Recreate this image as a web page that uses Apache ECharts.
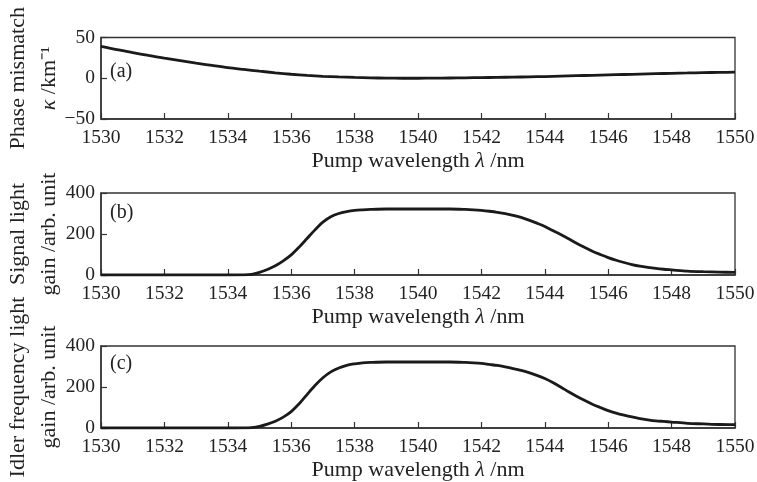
<!DOCTYPE html>
<html>
<head>
<meta charset="utf-8">
<script src="https://cdn.jsdelivr.net/npm/echarts@6/dist/echarts.min.js"></script>
<style>
html,body{margin:0;padding:0;background:#fff;}
#c{width:757px;height:482px;}
</style>
</head>
<body>
<div id="c"></div>
<script>
// (a) pump wavelength (nm) and phase mismatch kappa (km^-1)
var wavelengthA = [1530,1530.5,1531,1531.5,1532,1532.5,1533,1533.5,1534,1534.5,1535,1535.5,1536,1536.5,1537,1537.5,1538,1538.5,1539,1539.5,1540,1540.5,1541,1541.5,1542,1542.5,1543,1543.5,1544,1544.5,1545,1545.5,1546,1546.5,1547,1547.5,1548,1548.5,1549,1549.5,1550];
var kappa = [39,35,31.5,28,24.6,21.5,18.5,15.7,13,10.8,8.7,6.7,4.9,3.5,2.4,1.6,1.0,0.5,0.2,0,0,0.1,0.3,0.5,0.8,1.1,1.4,1.7,2.1,2.6,3.1,3.6,4.1,4.6,5.1,5.6,6.1,6.5,6.9,7.2,7.5];
// (b),(c) pump wavelength (nm) for the gain curves
var wavelengthG = [1530,1531,1532,1533,1534,1534.5,1534.75,1535,1535.25,1535.5,1535.75,1536,1536.25,1536.5,1536.75,1537,1537.25,1537.5,1537.75,1538,1538.25,1538.5,1539,1539.5,1540,1540.5,1541,1541.5,1541.75,1542,1542.25,1542.5,1542.75,1543,1543.25,1543.5,1543.75,1544,1544.25,1544.5,1544.75,1545,1545.25,1545.5,1545.75,1546,1546.25,1546.5,1546.75,1547,1547.25,1547.5,1547.75,1548,1548.5,1549,1549.5,1550];
// (b) signal light gain (arb. unit)
var signalGain = [0,0,0,0,0,0.5,3,13,27,45,69,98,136,178,220,258,284,300,309,315,318,320,322,322,322,322,322,320,318,315,311,306,299,291,281,268,253,237,217,198,177,155,135,116,100,85,72,61,51,43,37,32,28,25,19,16,14,13];
// (c) idler frequency light gain (arb. unit)
var idlerGain = [0,0,0,0,0,0.3,2,8,19,33,53,80,118,163,207,245,274,293,306,313,318,320,322,322,322,322,322,320,318,315,310,305,298,290,281,270,257,241,222,200,177,155,135,116,100,85,73,63,54,46,40,35,32,29,23,20,17,16];
// axis ticks
var xTicks = {min:1530, max:1550, interval:2};
var yTicksA = {min:-50, max:50, interval:50};
var yTicksGain = {min:0, max:400, interval:200};
var panelLabels = ['(a)','(b)','(c)'];
var yNames = ['Phase mismatch\n{i|κ} /km⁻¹','Signal light\ngain /arb. unit','Idler frequency light\ngain /arb. unit'];
var xName = 'Pump wavelength {i|λ} /nm';

function pairs(xs, ys){ return xs.map(function(x,i){ return [x, ys[i]]; }); }

var FONT = '"Liberation Serif", "Times New Roman", serif';
var TXT = '#222';
var grids = [
  {left:101, width:634, top:37.5, height:81.5},
  {left:101, width:634, top:193, height:82},
  {left:101, width:634, top:346, height:82}
];
grids.forEach(function(g){ g.show = true; g.borderColor = '#333'; g.borderWidth = 1.3; g.containLabel = false; g.outerBoundsMode = 'none'; });

var xAxes = [0,1,2].map(function(i){
  return {
    type:'value', gridIndex:i, min:xTicks.min, max:xTicks.max, interval:xTicks.interval,
    name:xName, nameLocation:'middle', nameGap:31, nameMoveOverlap:false,
    nameTextStyle:{fontFamily:FONT, fontSize:22, color:TXT, rich:{i:{fontFamily:FONT, fontStyle:'italic', fontSize:22, color:TXT}}},
    axisLine:{show:true, onZero:false, lineStyle:{color:'#333', width:1.5}},
    axisTick:{show:true, inside:true, length:6, lineStyle:{color:'#333', width:1.2}},
    axisLabel:{fontFamily:FONT, fontSize:19.5, color:TXT, margin:9,
      formatter:function(v){ return String(v); }},
    splitLine:{show:false}
  };
});
var yRanges = [yTicksA, yTicksGain, yTicksGain];
var yAxes = [0,1,2].map(function(i){
  var r = yRanges[i];
  return {
    type:'value', gridIndex:i, min:r.min, max:r.max, interval:r.interval,
    name:yNames[i], nameLocation:'middle', nameGap:36.5, nameRotate:90, nameMoveOverlap:false,
    nameTextStyle:{fontFamily:FONT, fontSize:22, color:TXT, lineHeight:31, align:'center',
      rich:{i:{fontFamily:FONT, fontStyle:'italic', fontSize:22, color:TXT, lineHeight:31}}},
    axisLine:{show:true, lineStyle:{color:'#333', width:1.5}},
    axisTick:{show:true, inside:true, length:6, lineStyle:{color:'#333', width:1.2}},
    axisLabel:{fontFamily:FONT, fontSize:19.5, color:TXT, margin:6,
      formatter:function(v){ return String(v).replace('-', '−'); }},
    splitLine:{show:false}
  };
});
var seriesXs = [wavelengthA, wavelengthG, wavelengthG];
var seriesData = [kappa, signalGain, idlerGain];
var series = seriesData.map(function(d,i){
  return {type:'line', xAxisIndex:i, yAxisIndex:i, data:pairs(seriesXs[i], d), smooth:0.3, showSymbol:false,
    lineStyle:{color:'#1a1a1a', width:2.8}, silent:true, animation:false};
});
var labelTops = [62, 203, 354];
var graphic = panelLabels.map(function(t,i){
  return {type:'text', left:110, top:labelTops[i], style:{text:t, font:'20px ' + FONT, fill:TXT}};
});

var chart = echarts.init(document.getElementById('c'), null, {renderer:'canvas'});
chart.setOption({
  animation:false,
  backgroundColor:'#fff',
  grid:grids, xAxis:xAxes, yAxis:yAxes, series:series, graphic:graphic
});
</script>
</body>
</html>
